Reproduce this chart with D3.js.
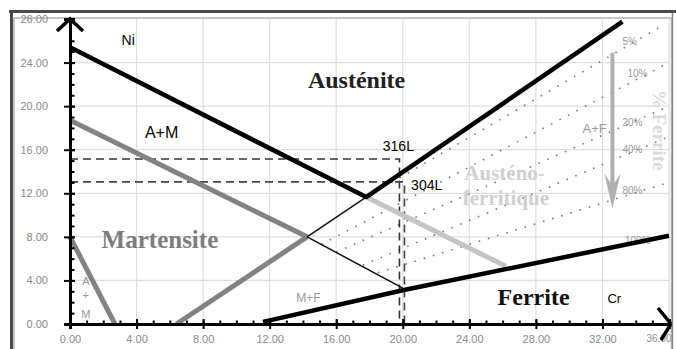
<!DOCTYPE html>
<html>
<head>
<meta charset="utf-8">
<script src="https://cdn.jsdelivr.net/npm/d3@7"></script>
<style>
  html, body { margin: 0; padding: 0; background: #fff; }
  svg { display: block; }
</style>
</head>
<body>
<div id="chart"></div>
<script>
// axes
const xTickValues = [0, 4, 8, 12, 16, 20, 24, 28, 32, 36];
const xTickLabels = ["0.00", "4.00", "8.00", "12.00", "16.00", "20.00", "24.00", "28.00", "32.00", "36.00"];
const yTickValues = [0, 4, 8, 12, 16, 20, 24, 28];
const yTickLabels = ["0.00", "4.00", "8.00", "12.00", "16.00", "20.00", "24.00", "26.00"];

// phase boundaries [Cr eq, Ni eq]
const austeniteLine = [[0, 25.4], [17.8, 11.65], [33.2, 27.75]];
const ferriteLine = [[11.6, 0.2], [20, 3.1], [36, 8.1]];
const martensiteLine = [[0, 18.7], [14.25, 8.0]];
const martensiteLineEnd = [[17.8, 11.65], [26.2, 5.3]];
const amLine = [[0, 8.0], [2.7, 0]];
const mfLine = [[6.4, 0], [14.25, 8.0]];
const thinLines = [
  [[14.25, 8.0], [17.8, 11.65]],
  [[14.25, 8.0], [20.0, 3.3]]
];

// iso-ferrite lines
const isoFerrite = ["5%", "10%", "20%", "40%", "80%", "100%"];
const isoStart = [[17.8, 11.65], [15.1, 7.3], [16.0, 6.6], [17.6, 5.4], [18.5, 4.7]];
const isoEnd = [[35.5, 27.3], [36, 24.0], [36, 20.0], [36, 17.2], [36, 13.0]];
const isoLabelAt = [[33.2, 25.9], [33.5, 23.0], [33.2, 18.5], [33.2, 16.0], [33.2, 12.3], [33.35, 7.7]];

// steels
const steels = ["316L", "304L"];
const steelCr = [19.8, 20.1];
const steelNi = [15.15, 13.05];

const serif = "'Liberation Serif', 'DejaVu Serif', serif";
const sans = "'Liberation Sans', Arial, sans-serif";

const width = 676, height = 349;

const svg = d3.select("div#chart")
  .append("svg")
  .attr("width", width)
  .attr("height", height);

svg.append("defs").append("clipPath").attr("id", "frame")
  .append("rect").attr("x", 0).attr("y", 0).attr("width", 672).attr("height", height);

const g = svg.append("g").attr("clip-path", "url(#frame)");

const x = d3.scaleLinear().domain([0, 36]).range([70, 669]);
const y = d3.scaleLinear().domain([0, 28]).range([324, 19]);

// frame
g.append("rect")
  .attr("x", 14).attr("y", 18).attr("width", 657.5).attr("height", 340)
  .attr("fill", "#fff").attr("stroke", "#b5b5b5").attr("stroke-width", 1.5);
svg.append("line").attr("x1", 9).attr("x2", 676).attr("y1", 11.5).attr("y2", 11.5)
  .attr("stroke", "#4a4a4a").attr("stroke-width", 3);
svg.append("line").attr("x1", 11.5).attr("x2", 11.5).attr("y1", 10).attr("y2", height)
  .attr("stroke", "#4a4a4a").attr("stroke-width", 3);
svg.append("line").attr("x1", 672.5).attr("x2", 672.5).attr("y1", 13).attr("y2", height)
  .attr("stroke", "#8a8a8a").attr("stroke-width", 1.5);

// grid
g.append("g").selectAll("line").data(xTickValues.slice(1)).enter().append("line")
  .attr("x1", d => x(d)).attr("x2", d => x(d)).attr("y1", 19).attr("y2", y(0))
  .attr("stroke", "#dedede").attr("stroke-width", 1.2);
g.append("g").selectAll("line").data(yTickValues.slice(1, -1)).enter().append("line")
  .attr("x1", x(0)).attr("x2", 672).attr("y1", d => y(d)).attr("y2", d => y(d))
  .attr("stroke", "#dedede").attr("stroke-width", 1.2);

const line = d3.line().x(d => x(d[0])).y(d => y(d[1]));

// dotted iso-ferrite lines
g.append("g").selectAll("path").data(isoStart).enter().append("path")
  .attr("d", (d, i) => line([d, isoEnd[i]]))
  .attr("fill", "none").attr("stroke", "#777").attr("stroke-width", 1.6)
  .attr("stroke-dasharray", "1.6,8");

g.append("g").selectAll("text").data(isoFerrite).enter().append("text")
  .attr("x", (d, i) => x(isoLabelAt[i][0]))
  .attr("y", (d, i) => y(isoLabelAt[i][1]))
  .attr("dy", "0.35em")
  .style("font-family", sans).style("font-size", "10px").style("fill", "#999")
  .text(d => d);

// steels dashed
steels.forEach((s, i) => {
  g.append("path")
    .attr("d", line([[0, steelNi[i]], [steelCr[i], steelNi[i]], [steelCr[i], 0]]))
    .attr("fill", "none").attr("stroke", i === 0 ? "#333" : "#444")
    .attr("stroke-width", 1.6).attr("stroke-dasharray", "8,5");
});

// faded annotations
g.append("text").attr("x", x(23.7)).attr("y", y(13.2))
  .style("font-family", serif).style("font-weight", "bold").style("font-size", "21px")
  .style("fill", "#d0d0d0").text("Austéno-");
g.append("text").attr("x", x(23.6)).attr("y", y(10.9))
  .style("font-family", serif).style("font-weight", "bold").style("font-size", "21px")
  .style("fill", "#d0d0d0").text("ferritique");
g.append("text")
  .attr("transform", `translate(${x(35.05)},${y(17.8)}) rotate(90)`)
  .attr("text-anchor", "middle")
  .style("font-family", serif).style("font-weight", "bold").style("font-size", "19px")
  .style("fill", "#dadada").text("% Ferrite");

// arrow
g.append("line")
  .attr("x1", x(32.6)).attr("x2", x(32.6)).attr("y1", y(24.9)).attr("y2", y(12.5))
  .attr("stroke", "#b0b0b0").attr("stroke-width", 4);
g.append("path")
  .attr("d", `M${x(32.6) - 8},${y(13.8)} L${x(32.6)},${y(10.6)} L${x(32.6) + 8},${y(13.8)} L${x(32.6)},${y(12.7)} Z`)
  .attr("fill", "#b0b0b0");

// phase boundaries
g.append("path").attr("d", line(martensiteLine))
  .attr("fill", "none").attr("stroke", "#838383").attr("stroke-width", 5);
g.append("path").attr("d", line(martensiteLineEnd))
  .attr("fill", "none").attr("stroke", "#c4c4c4").attr("stroke-width", 5);
g.append("path").attr("d", line(amLine))
  .attr("fill", "none").attr("stroke", "#838383").attr("stroke-width", 5);
g.append("path").attr("d", line(mfLine))
  .attr("fill", "none").attr("stroke", "#838383").attr("stroke-width", 5);
g.append("g").selectAll("path").data(thinLines).enter().append("path")
  .attr("d", d => line(d))
  .attr("fill", "none").attr("stroke", "#111").attr("stroke-width", 1.5);
g.append("path").attr("d", line(austeniteLine))
  .attr("fill", "none").attr("stroke", "#000").attr("stroke-width", 4.5)
  .attr("stroke-linejoin", "round");
g.append("path").attr("d", line(ferriteLine))
  .attr("fill", "none").attr("stroke", "#000").attr("stroke-width", 4.5)
  .attr("stroke-linejoin", "round");

// axes
g.append("g").attr("transform", `translate(0,${y(0)})`)
  .call(d3.axisBottom(x).tickValues(xTickValues).tickSize(5).tickPadding(6)
    .tickFormat((d, i) => xTickLabels[i]));
g.append("g").attr("transform", `translate(0,${y(0)})`)
  .call(d3.axisBottom(x).tickValues(xTickValues).tickSize(-5).tickFormat(""));
g.append("g").attr("transform", `translate(0,${y(0)})`)
  .call(d3.axisBottom(x).tickValues(d3.range(1, 36)).tickSize(-3.5).tickFormat(""));

g.append("g").attr("transform", `translate(${x(0)},0)`)
  .call(d3.axisLeft(y).tickValues(yTickValues.slice(0, -1)).tickSize(6).tickPadding(16)
    .tickFormat((d, i) => yTickLabels[i]));
g.append("g").attr("transform", `translate(${x(0)},0)`)
  .call(d3.axisLeft(y).tickValues(yTickValues.slice(0, -1)).tickSize(-5).tickFormat(""));
g.append("g").attr("transform", `translate(${x(0)},0)`)
  .call(d3.axisLeft(y).tickValues(d3.range(1, 27)).tickSize(-4.5).tickFormat(""));
g.append("text").attr("x", x(0) - 22).attr("y", y(28)).attr("dy", "0.32em")
  .attr("text-anchor", "end")
  .style("font-family", sans).style("font-size", "11px").style("fill", "#8a8a8a")
  .text(yTickLabels[yTickLabels.length - 1]);

g.selectAll(".domain").attr("stroke", "#000").attr("stroke-width", 3);
g.selectAll(".tick line").attr("stroke", "#000").attr("stroke-width", 2);
g.selectAll(".tick text")
  .style("font-family", sans).style("font-size", "11px").style("fill", "#8a8a8a");
// last x label kept inside the frame
g.selectAll(".tick text").filter(d => d === 36)
  .attr("text-anchor", "end").attr("x", 2).style("font-size", "10px");

// axis arrows
g.append("path")
  .attr("d", `M${x(0) - 13},${y(28) + 12} L${x(0)},${y(28)} L${x(0) + 13},${y(28) + 12}`)
  .attr("fill", "none").attr("stroke", "#000").attr("stroke-width", 3.5);
g.append("path")
  .attr("d", `M${x(36) - 11},${y(0) - 16} L${x(36) + 2},${y(0)} L${x(36) - 8},${y(0) + 16}`)
  .attr("fill", "none").attr("stroke", "#000").attr("stroke-width", 3.5);

// labels
const label = (t, cx, cy, font, size, weight, color, anchor) =>
  g.append("text").attr("x", x(cx)).attr("y", y(cy))
    .attr("text-anchor", anchor || "start")
    .style("font-family", font).style("font-size", size + "px")
    .style("font-weight", weight).style("fill", color).text(t);

label("Ni", 3.1, 25.6, sans, 14, "normal", "#000");
label("Austénite", 14.3, 21.7, serif, 24, "bold", "#222");
label("A+M", 4.5, 17.1, sans, 16, "normal", "#000");
label(steels[0], 18.8, 15.9, sans, 14, "normal", "#000");
label(steels[1], 20.5, 12.3, sans, 14, "normal", "#000");
label("Martensite", 1.9, 7.0, serif, 25, "bold", "#7d7d7d");
label("M+F", 13.6, 2.0, sans, 12, "normal", "#999");
label("Ferrite", 25.7, 1.75, serif, 24, "bold", "#111");
label("Cr", 32.3, 1.9, sans, 13, "normal", "#000");
label("A+F", 30.8, 17.5, sans, 13, "normal", "#999");
label("A", 0.95, 3.6, sans, 11, "normal", "#999", "middle");
label("+", 0.95, 2.3, sans, 11, "normal", "#999", "middle");
label("M", 0.95, 0.55, sans, 11, "normal", "#999", "middle");
</script>
</body>
</html>
